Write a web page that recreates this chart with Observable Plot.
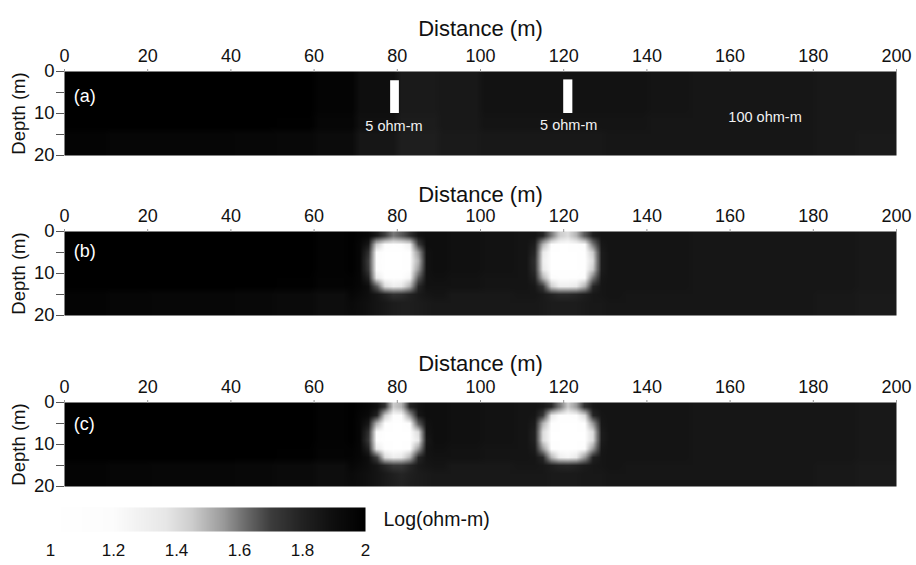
<!DOCTYPE html>
<html><head><meta charset="utf-8">
<script src="https://cdn.jsdelivr.net/npm/d3@7"></script>
<script src="https://cdn.jsdelivr.net/npm/@observablehq/plot@0.6"></script>
<style>
body{margin:0;background:#fff;}
#chart{position:relative;width:916px;height:565px;font-family:"Liberation Sans",Arial,sans-serif;}
#chart svg{position:absolute;left:0;}
</style></head><body><div id="chart"></div>
<script>
// ---- ticks & labels ----
const xTicks = [0, 20, 40, 60, 80, 100, 120, 140, 160, 180, 200];
const depthTicks = [0, 5, 10, 15, 20];
const depthLabels = [0, 10, 20];
const cbTicks = [1, 1.2, 1.4, 1.6, 1.8, 2];
const xTitle = "Distance (m)";
const yTitle = "Depth (m)";
const cbTitle = "Log(ohm-m)";

// ---- grey colour scale (log10 ohm-m) ----
const colorStops = [1, 1.2, 1.37, 1.45, 1.55, 1.62, 1.7, 1.8, 1.9, 2];
const grayStops = ["#ffffff", "#fcfcfc", "#e6e6e6", "#cccccc", "#999999", "#6b6b6b", "#3d3d3d", "#222222", "#0e0e0e", "#000000"];

// ---- panel letters ----
const letters = [
  {panel: "a", text: "(a)", x: 2.2, z: 5.8},
  {panel: "b", text: "(b)", x: 2.2, z: 4.6},
  {panel: "c", text: "(c)", x: 2.2, z: 5.2}
];

// ---- (a) true model: 100 ohm-m host with two 5 ohm-m dykes ----
const dykesA = [
  {x1: 78.4, x2: 80.5, z1: 2.2, z2: 10, log: 0.7},
  {x1: 120, x2: 122.2, z1: 2, z2: 10, log: 0.7}
];
const notesA = [
  {text: "5 ohm-m", x: 79.2, z: 13},
  {text: "5 ohm-m", x: 121.2, z: 12.9},
  {text: "100 ohm-m", x: 168.4, z: 10.9}
];
// background (as scanned), 20 columns of 10 m, 4 rows of 5 m
const bgA = [
  [2,2,2,2,2,2,1.97,1.9,1.84,1.85,1.88,1.88,1.88,1.88,1.87,1.86,1.86,1.86,1.85,1.85],
  [2,2,2,2,2,2,1.97,1.9,1.84,1.85,1.88,1.88,1.88,1.88,1.87,1.86,1.86,1.86,1.85,1.85],
  [2,2,2,2,2,1.99,1.96,1.89,1.83,1.85,1.87,1.87,1.87,1.87,1.86,1.86,1.86,1.86,1.85,1.85],
  [1.97,1.96,1.96,1.96,1.95,1.94,1.92,1.86,1.82,1.84,1.85,1.85,1.85,1.86,1.86,1.86,1.86,1.86,1.85,1.84]
];

// ---- (b) inversion 1 ----
const bgB = [
  [2,2,2,2,2,2,1.98,1.93,1.9,1.89,1.88,1.87,1.87,1.87,1.87,1.86,1.86,1.86,1.86,1.85],
  [2,2,2,2,2,2,1.98,1.93,1.9,1.89,1.88,1.87,1.87,1.87,1.87,1.86,1.86,1.86,1.86,1.85],
  [2,2,2,2,2,1.99,1.97,1.92,1.89,1.88,1.87,1.87,1.87,1.87,1.87,1.86,1.86,1.86,1.86,1.85],
  [1.97,1.96,1.95,1.95,1.94,1.93,1.91,1.87,1.85,1.85,1.85,1.85,1.85,1.86,1.86,1.86,1.86,1.86,1.85,1.84]
];
// blob near 80 m: 12 columns of 2 m (68-92), 10 rows of 2 m
const blobB80 = [
  [1.99,1.97,1.95,1.85,1.7,1.6,1.65,1.75,1.88,1.9,1.9,1.9],
  [1.99,1.95,1.85,1.45,1.2,1.1,1.15,1.3,1.7,1.9,1.9,1.9],
  [1.99,1.95,1.75,1.2,1.0,1.0,1.0,1.1,1.55,1.88,1.9,1.9],
  [1.99,1.95,1.7,1.15,1.0,1.0,1.0,1.05,1.5,1.88,1.9,1.9],
  [1.99,1.95,1.72,1.2,1.0,1.0,1.0,1.1,1.55,1.88,1.9,1.9],
  [1.98,1.95,1.8,1.35,1.1,1.05,1.1,1.25,1.65,1.88,1.89,1.89],
  [1.97,1.95,1.9,1.65,1.4,1.3,1.35,1.5,1.78,1.88,1.88,1.88],
  [1.95,1.93,1.9,1.86,1.8,1.75,1.76,1.8,1.84,1.86,1.87,1.87],
  [1.93,1.91,1.89,1.87,1.85,1.83,1.82,1.82,1.83,1.84,1.85,1.85],
  [1.92,1.91,1.89,1.87,1.85,1.83,1.82,1.82,1.83,1.84,1.85,1.85]
];
// blob near 120 m: 13 columns of 2 m (108-134)
const blobB120 = [
  [1.87,1.87,1.87,1.8,1.6,1.45,1.4,1.5,1.65,1.82,1.87,1.87,1.87],
  [1.87,1.87,1.82,1.5,1.15,1.0,1.0,1.05,1.2,1.6,1.85,1.87,1.87],
  [1.87,1.87,1.78,1.35,1.0,1.0,1.0,1.0,1.05,1.45,1.83,1.87,1.87],
  [1.87,1.87,1.75,1.3,1.0,1.0,1.0,1.0,1.0,1.4,1.83,1.87,1.87],
  [1.87,1.87,1.76,1.35,1.0,1.0,1.0,1.0,1.05,1.45,1.83,1.87,1.87],
  [1.87,1.87,1.8,1.5,1.15,1.05,1.05,1.1,1.2,1.6,1.85,1.87,1.87],
  [1.87,1.87,1.85,1.72,1.45,1.3,1.3,1.35,1.5,1.78,1.86,1.87,1.87],
  [1.86,1.86,1.86,1.84,1.8,1.77,1.77,1.79,1.82,1.85,1.86,1.87,1.87],
  [1.85,1.85,1.85,1.84,1.83,1.83,1.83,1.83,1.84,1.85,1.85,1.86,1.86],
  [1.85,1.85,1.85,1.84,1.83,1.83,1.83,1.83,1.84,1.85,1.85,1.86,1.86]
];

// ---- (c) inversion 2 ----
const bgC = [
  [2,2,2,2,2,2,1.98,1.93,1.9,1.89,1.88,1.87,1.87,1.87,1.87,1.86,1.86,1.86,1.86,1.85],
  [2,2,2,2,2,2,1.98,1.93,1.9,1.89,1.88,1.87,1.87,1.87,1.87,1.86,1.86,1.86,1.86,1.85],
  [2,2,2,2,2,1.99,1.97,1.92,1.89,1.88,1.87,1.87,1.87,1.87,1.87,1.86,1.86,1.86,1.86,1.85],
  [1.97,1.96,1.95,1.95,1.94,1.93,1.91,1.87,1.85,1.85,1.85,1.85,1.85,1.86,1.86,1.86,1.86,1.86,1.85,1.84]
];
const blobC80 = [
  [1.99,1.97,1.95,1.9,1.75,1.45,1.5,1.8,1.88,1.9,1.9,1.9],
  [1.99,1.96,1.93,1.8,1.45,1.15,1.2,1.55,1.85,1.9,1.9,1.9],
  [1.99,1.95,1.85,1.5,1.1,1.0,1.0,1.2,1.65,1.88,1.9,1.9],
  [1.99,1.95,1.75,1.2,1.0,1.0,1.0,1.0,1.4,1.87,1.9,1.9],
  [1.99,1.95,1.72,1.15,1.0,1.0,1.0,1.0,1.35,1.85,1.9,1.9],
  [1.98,1.95,1.8,1.35,1.05,1.0,1.0,1.1,1.55,1.87,1.89,1.89],
  [1.97,1.95,1.9,1.7,1.4,1.3,1.35,1.5,1.78,1.87,1.88,1.88],
  [1.95,1.93,1.9,1.86,1.78,1.72,1.72,1.78,1.84,1.86,1.87,1.87],
  [1.93,1.91,1.89,1.87,1.84,1.81,1.79,1.81,1.83,1.84,1.85,1.85],
  [1.92,1.91,1.89,1.87,1.84,1.82,1.8,1.82,1.83,1.84,1.85,1.85]
];
const blobC120 = [
  [1.87,1.87,1.87,1.85,1.78,1.6,1.45,1.55,1.75,1.85,1.87,1.87,1.87],
  [1.87,1.87,1.86,1.72,1.35,1.1,1.05,1.15,1.4,1.78,1.86,1.87,1.87],
  [1.87,1.87,1.83,1.5,1.05,1.0,1.0,1.0,1.1,1.55,1.85,1.87,1.87],
  [1.87,1.87,1.8,1.4,1.0,1.0,1.0,1.0,1.0,1.4,1.83,1.87,1.87],
  [1.87,1.87,1.8,1.4,1.0,1.0,1.0,1.0,1.0,1.4,1.83,1.87,1.87],
  [1.87,1.87,1.83,1.55,1.1,1.0,1.0,1.0,1.15,1.55,1.85,1.87,1.87],
  [1.87,1.87,1.86,1.78,1.5,1.3,1.25,1.35,1.55,1.8,1.86,1.87,1.87],
  [1.86,1.86,1.86,1.85,1.82,1.79,1.78,1.8,1.83,1.85,1.86,1.87,1.87],
  [1.85,1.85,1.85,1.85,1.84,1.84,1.84,1.84,1.85,1.85,1.85,1.86,1.86],
  [1.85,1.85,1.85,1.85,1.84,1.84,1.84,1.84,1.85,1.85,1.85,1.86,1.86]
];

// ---- layout ----
const W = 916;
const colorOpts = {type: "linear", domain: colorStops, range: grayStops, clamp: true};
const fontFamily = '"Liberation Sans", Arial, Helvetica, sans-serif';

// assemble one 2 m x 2 m grid per panel: each fine cell takes the value of the
// coarse background cell it lies in, or the value of a detailed patch
function compose(bg, patches) {
  const cols = 100, rows = 10, out = [];
  for (let j = 0; j < rows; ++j) {
    for (let i = 0; i < cols; ++i) {
      let v = bg[Math.floor((2 * j + 1) / 5)][Math.floor(i / 5)];
      for (const p of patches) {
        const c0 = p.x1 / 2;
        if (i >= c0 && i < c0 + p.rows[0].length) v = p.rows[j][i - c0];
      }
      out.push(v);
    }
  }
  return {values: out, width: cols, height: rows};
}

function panel(cfg) {
  const g = compose(cfg.bg, cfg.patches);
  const marks = [
    Plot.raster(g.values, {width: g.width, height: g.height, x1: 0, x2: 200, y1: 0, y2: 20, fill: d => d, imageRendering: "auto"}),
    Plot.rect(cfg.rects || [], {x1: "x1", x2: "x2", y1: "z1", y2: "z2", fill: "log"}),
    Plot.text(cfg.notes || [], {x: "x", y: "z", text: "text", fill: "#f2f2f2", fontSize: 14.5}),
    Plot.text(letters.filter(d => d.panel === cfg.id), {x: "x", y: "z", text: "text", fill: "#ffffff", fontSize: 18, textAnchor: "start"}),
    Plot.axisX(xTicks, {anchor: "top", tickSize: 3, tickPadding: 7, stroke: "#999", label: null}),
    Plot.axisY(depthTicks, {anchor: "left", tickSize: 8, tickPadding: 2, stroke: "#555",
      tickFormat: d => depthLabels.includes(d) ? String(d) : "",
      label: yTitle, labelAnchor: "center", labelArrow: "none", labelOffset: 53, fontSize: 18.5}),
    Plot.text([xTitle], {frameAnchor: "top", dy: -cfg.titleGap, fontSize: 22, fill: "#111"})
  ];
  const svg = Plot.plot({
    width: W, height: cfg.marginTop + 84 + cfg.marginBottom,
    marginTop: cfg.marginTop, marginBottom: cfg.marginBottom, marginLeft: 64, marginRight: 20,
    x: {domain: [0, 200]},
    y: {domain: [0, 20], reverse: true},
    color: colorOpts,
    style: {fontSize: "18px", fontFamily, color: "#111", background: "transparent", overflow: "visible"},
    marks
  });
  svg.style.top = cfg.top + "px";
  return svg;
}

const chart = document.getElementById("chart");
chart.appendChild(panel({id: "a", top: 0, marginTop: 71, marginBottom: 10, titleGap: 51, bg: bgA, patches: [], rects: dykesA, notes: notesA}));
chart.appendChild(panel({id: "b", top: 165, marginTop: 66, marginBottom: 10, titleGap: 45, bg: bgB,
  patches: [{rows: blobB80, x1: 68}, {rows: blobB120, x1: 108}]}));
chart.appendChild(panel({id: "c", top: 330, marginTop: 72, marginBottom: 4, titleGap: 47, bg: bgC,
  patches: [{rows: blobC80, x1: 68}, {rows: blobC120, x1: 108}]}));

// ---- colour bar ----
const cb = Plot.plot({
  width: W, height: 75, marginTop: 17, marginBottom: 34, marginLeft: 50, marginRight: 551,
  x: {domain: [1, 2]},
  y: {domain: [0, 1], axis: null},
  color: colorOpts,
  style: {fontSize: "17px", fontFamily, color: "#111", background: "transparent", overflow: "visible"},
  marks: [
    Plot.raster({x1: 1, x2: 2, y1: 0, y2: 1, width: 316, height: 1, fill: (x, y) => x}),
    Plot.axisX(cbTicks, {anchor: "bottom", tickSize: 0, tickPadding: 12, label: null, tickFormat: d => String(d)}),
    Plot.text([cbTitle], {frameAnchor: "right", dx: 18, textAnchor: "start", fontSize: 19.5, fill: "#111"})
  ]
});
cb.style.top = "490px";
chart.appendChild(cb);
</script></body></html>
